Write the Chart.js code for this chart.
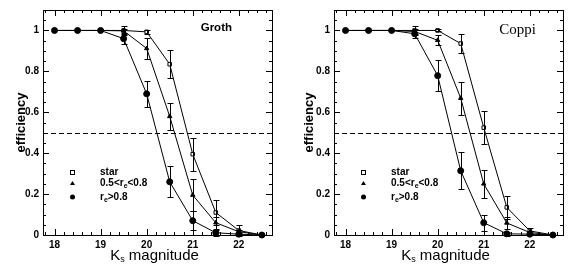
<!DOCTYPE html>
<html>
<head>
<meta charset="utf-8">
<script src="https://cdn.jsdelivr.net/npm/chart.js@4"></script>
<style>
  body { margin: 0; background: #fff; }
  canvas { display: block; float: left; }
</style>
</head>
<body>
<canvas id="groth" width="288" height="267"></canvas>
<canvas id="coppi" width="288" height="267"></canvas>
<script>
const mags = [18, 18.5, 19, 19.5, 20, 20.5, 21, 21.5, 22, 22.5];
const xTicks = [18, 19, 20, 21, 22];
const yTicks = [0, 0.2, 0.4, 0.6, 0.8, 1];

// Groth field
const grothStar = [1, 1, 1, 1, 0.993, 0.835, 0.395, 0.11, 0.022, 0];
const grothStarErr = [0, 0, 0, 0.02, 0.01, 0.068, 0.08, 0.063, 0.025, 0];
const grothMid = [1, 1, 1, 0.998, 0.912, 0.58, 0.195, 0.06, 0.016, 0];
const grothMidErr = [0, 0, 0, 0.01, 0.053, 0.067, 0.077, 0.03, 0.01, 0];
const grothBig = [1, 1, 1, 0.96, 0.69, 0.26, 0.07, 0.011, 0.004, 0];
const grothBigErr = [0, 0, 0, 0.025, 0.065, 0.075, 0.045, 0.015, 0.005, 0];

// Coppi field
const coppiStar = [1, 1, 1, 1, 1, 0.936, 0.525, 0.135, 0.02, 0];
const coppiStarErr = [0, 0, 0, 0.02, 0.005, 0.047, 0.079, 0.055, 0.015, 0];
const coppiMid = [1, 1, 1, 0.995, 0.952, 0.669, 0.25, 0.059, 0.012, 0];
const coppiMidErr = [0, 0, 0, 0.01, 0.025, 0.081, 0.07, 0.03, 0.01, 0];
const coppiBig = [1, 1, 1, 0.984, 0.779, 0.314, 0.06, 0.006, 0.004, 0];
const coppiBigErr = [0, 0, 0, 0.02, 0.075, 0.09, 0.04, 0.01, 0.005, 0];

const SANS = "'Liberation Sans', Arial, sans-serif";

function points(ys) {
  return mags.map((m, i) => ({ x: m, y: ys[i] }));
}

// frame, inward ticks, dashed 50% line, error bars, legend, axis titles
const decor = {
  id: "decor",
  beforeDatasetsDraw(chart) {
    const { ctx, chartArea: a, scales } = chart;
    const x = scales.x, y = scales.y;
    ctx.save();
    ctx.strokeStyle = "#000";
    ctx.lineWidth = 1;

    const yh = Math.round(y.getPixelForValue(0.5)) + 0.5;
    ctx.setLineDash([5, 3]);
    ctx.beginPath();
    ctx.moveTo(a.left, yh);
    ctx.lineTo(a.right, yh);
    ctx.stroke();
    ctx.setLineDash([]);

    ctx.strokeRect(a.left + 0.5, a.top + 0.5, a.right - a.left, a.bottom - a.top);

    ctx.beginPath();
    for (let v = 17.8; v <= 22.71; v += 0.2) {
      const px = Math.round(x.getPixelForValue(v)) + 0.5;
      const len = Math.abs(v - Math.round(v)) < 0.01 ? 6 : 3;
      ctx.moveTo(px, a.bottom);
      ctx.lineTo(px, a.bottom - len);
      ctx.moveTo(px, a.top);
      ctx.lineTo(px, a.top + len);
    }
    for (let v = 0; v <= 1.1; v += 0.05) {
      const py = Math.round(y.getPixelForValue(v)) + 0.5;
      const len = Math.abs(v * 5 - Math.round(v * 5)) < 0.01 ? 6 : 3;
      ctx.moveTo(a.left, py);
      ctx.lineTo(a.left + len, py);
      ctx.moveTo(a.right, py);
      ctx.lineTo(a.right - len, py);
    }
    ctx.stroke();
    ctx.restore();
  },
  afterDatasetsDraw(chart, args, opts) {
    const { ctx, chartArea: a, scales } = chart;
    const x = scales.x, y = scales.y;
    ctx.save();
    ctx.strokeStyle = "#000";
    ctx.fillStyle = "#000";
    ctx.lineWidth = 1;

    // error bars
    chart.data.datasets.forEach((ds) => {
      ds.errors.forEach((e, i) => {
        if (!e) return;
        const px = Math.round(x.getPixelForValue(ds.data[i].x)) + 0.5;
        const top = Math.round(y.getPixelForValue(ds.data[i].y + e)) + 0.5;
        const bot = Math.round(y.getPixelForValue(ds.data[i].y - e)) + 0.5;
        ctx.beginPath();
        ctx.moveTo(px, top);
        ctx.lineTo(px, bot);
        ctx.moveTo(px - 3, top);
        ctx.lineTo(px + 3, top);
        ctx.moveTo(px - 3, bot);
        ctx.lineTo(px + 3, bot);
        ctx.stroke();
      });
    });

    // legend
    const sx = a.left + 29, tx = a.left + 57;
    const rows = [a.bottom - 63, a.bottom - 52, a.bottom - 38];
    ctx.strokeRect(sx - 1.5, rows[0] - 1.5, 4, 4);
    ctx.beginPath();
    ctx.moveTo(sx + 0.5, rows[1] - 2);
    ctx.lineTo(sx + 3, rows[1] + 2);
    ctx.lineTo(sx - 2, rows[1] + 2);
    ctx.closePath();
    ctx.fill();
    ctx.beginPath();
    ctx.arc(sx + 0.5, rows[2], 2.5, 0, Math.PI * 2);
    ctx.fill();

    ctx.textBaseline = "middle";
    ctx.textAlign = "left";
    const f = "bold 10px " + SANS;
    const fs = "bold 7px " + SANS;
    const runs = (parts, x0, y0) => {
      let cx = x0;
      parts.forEach(([t, font, dy]) => {
        ctx.font = font;
        ctx.fillText(t, cx, y0 + dy);
        cx += ctx.measureText(t).width;
      });
    };
    runs([["star", f, 0]], tx, rows[0]);
    runs([["0.5<r", f, 0], ["e", fs, 3], ["<0.8", f, 0]], tx, rows[1]);
    runs([["r", f, 0], ["e", fs, 3], [">0.8", f, 0]], tx, rows[2]);

    // field name
    ctx.font = opts.titleFont;
    ctx.textAlign = "right";
    ctx.fillText(opts.title, a.right - opts.titleRight, a.top + opts.titleY);

    // y axis title
    ctx.save();
    ctx.translate(21, (a.top + a.bottom) / 2);
    ctx.rotate(-Math.PI / 2);
    ctx.textAlign = "center";
    ctx.font = "bold 13px " + SANS;
    ctx.fillText("efficiency", 0, 0);
    ctx.restore();

    // x axis title with subscript
    const bigF = "15px " + SANS, subF = "9px " + SANS;
    ctx.font = bigF;
    const wK = ctx.measureText("K").width;
    const wRest = ctx.measureText(" magnitude").width;
    ctx.font = subF;
    const wS = ctx.measureText("s").width;
    const lx = (a.left + a.right) / 2 - (wK + wS + wRest) / 2 - 3;
    ctx.textAlign = "left";
    runs([["K", bigF, 0], ["s", subF, 4], [" magnitude", bigF, 0]], lx, 256);
    ctx.restore();
  },
};

function makePanel(id, title, titleFont, titleRight, titleY, yWidth, padRight, star, starErr, mid, midErr, big, bigErr) {
  const base = {
    borderColor: "#000",
    borderWidth: 1,
    pointBorderColor: "#000",
    pointBorderWidth: 1,
    clip: false,
  };
  new Chart(document.getElementById(id), {
    type: "line",
    data: {
      datasets: [
        { ...base, data: points(big), errors: bigErr, pointStyle: "circle", pointRadius: 3, pointBackgroundColor: "#000" },
        { ...base, data: points(mid), errors: midErr, pointStyle: "triangle", pointRadius: 2.5, pointBackgroundColor: "#000" },
        { ...base, data: points(star), errors: starErr, pointStyle: "rect", pointRadius: 2.5, pointBackgroundColor: "#fff" },
      ],
    },
    options: {
      responsive: false,
      animation: false,
      devicePixelRatio: 1,
      layout: { padding: { top: 5, right: padRight, left: 0, bottom: 0 } },
      plugins: {
        legend: { display: false },
        tooltip: { enabled: false },
        decor: { title: title, titleFont: titleFont, titleRight: titleRight, titleY: titleY },
      },
      scales: {
        x: {
          type: "linear",
          min: 17.75,
          max: 22.72,
          grid: { display: false, drawTicks: false },
          border: { display: false },
          afterBuildTicks: (s) => { s.ticks = xTicks.map((v) => ({ value: v })); },
          afterFit: (s) => { s.height = 32; },
          ticks: {
            padding: 4,
            color: "#000",
            font: { family: SANS, size: 10, weight: "bold" },
            callback: (v) => String(v),
          },
        },
        y: {
          type: "linear",
          min: 0,
          max: 1.1,
          grid: { display: false, drawTicks: false },
          border: { display: false },
          afterBuildTicks: (s) => { s.ticks = yTicks.map((v) => ({ value: v })); },
          afterFit: (s) => { s.width = yWidth; },
          ticks: {
            padding: 4,
            color: "#000",
            font: { family: SANS, size: 10, weight: "bold" },
            callback: (v) => (v === 0 || v === 1 ? String(v) : v.toFixed(1)),
          },
        },
      },
    },
    plugins: [decor],
  });
}

makePanel("groth", "Groth", "bold 11.5px " + SANS, 40, 18, 43, 16,
  grothStar, grothStarErr, grothMid, grothMidErr, grothBig, grothBigErr);
makePanel("coppi", "Coppi", "15px 'Liberation Serif', 'Times New Roman', serif", 27, 20, 46, 13,
  coppiStar, coppiStarErr, coppiMid, coppiMidErr, coppiBig, coppiBigErr);
</script>
</body>
</html>
